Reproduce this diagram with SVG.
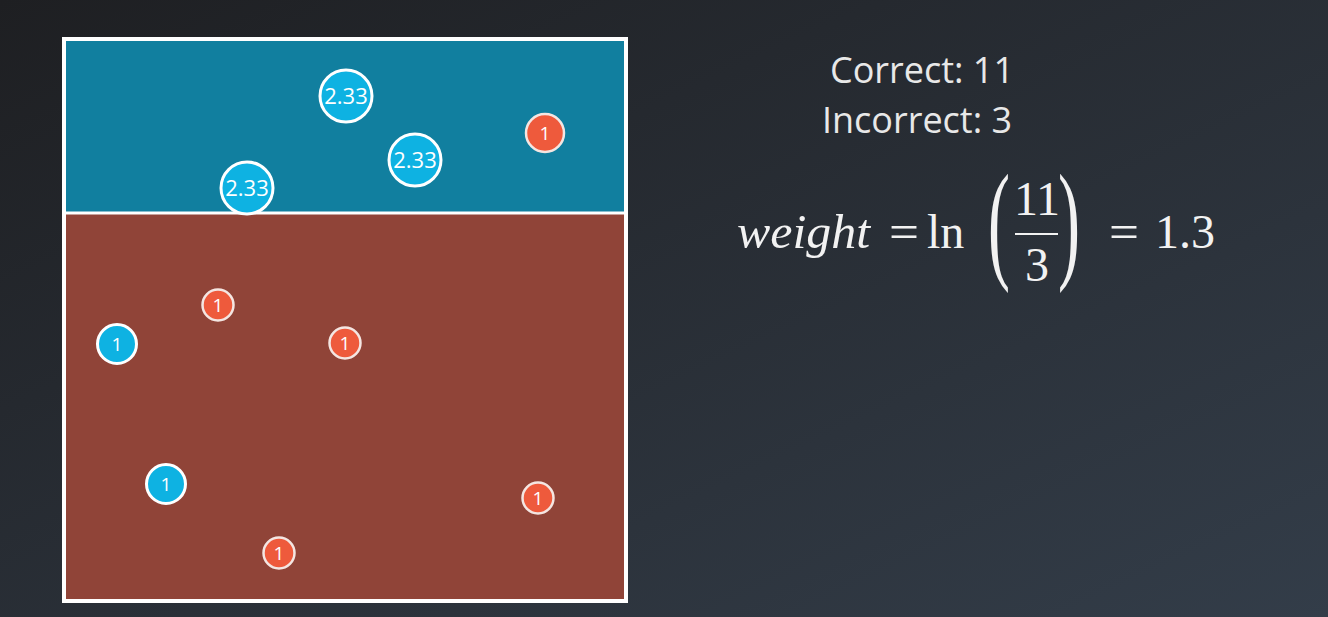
<svg xmlns="http://www.w3.org/2000/svg" width="1328" height="617" viewBox="0 0 1328 617">
<defs>
<linearGradient id="bg" x1="0" y1="0" x2="1" y2="1">
<stop offset="0" stop-color="#1e1f22"/>
<stop offset="1" stop-color="#333d49"/>
</linearGradient>
</defs>
<style>
.blue{fill:#0eb2e2;stroke:#ffffff;stroke-width:3}
.red{fill:#ee5a3c;stroke:#f4e6e2;stroke-width:2.5}
.lbl{font-family:"Open Sans","Liberation Sans",sans-serif;fill:#ffffff;text-anchor:middle}
.big{font-size:22px}
.sm{font-size:19px}
.info{font-family:"Open Sans","Liberation Sans",sans-serif;font-size:36px;fill:#e8e8e8;text-anchor:middle}
.math{font-family:"Liberation Serif","DejaVu Serif",serif;fill:#f2f2f2;font-size:48px}
</style>
<rect width="1328" height="617" fill="url(#bg)"/>
<g id="board">
<rect x="64" y="39" width="562" height="174" fill="#117f9f"/>
<rect x="64" y="213" width="562" height="388" fill="#904438"/>
<line x1="64" y1="213" x2="626" y2="213" stroke="#ffffff" stroke-width="3"/>
<rect x="64" y="39" width="562" height="562" fill="none" stroke="#ffffff" stroke-width="4"/>
</g>
<g id="p1"><circle class="blue" cx="346" cy="96" r="26"/><text class="lbl big" x="346" y="104">2.33</text></g>
<g id="p2"><circle class="blue" cx="415" cy="160" r="26"/><text class="lbl big" x="415" y="168">2.33</text></g>
<g id="p3"><circle class="blue" cx="247" cy="188" r="26"/><text class="lbl big" x="247" y="196">2.33</text></g>
<g id="p4"><circle class="red" cx="545" cy="133" r="19"/><text class="lbl sm" x="545" y="140">1</text></g>
<g id="p5"><circle class="red" cx="218" cy="305" r="15.5"/><text class="lbl sm" x="218" y="312">1</text></g>
<g id="p6"><circle class="blue" cx="117" cy="344" r="19.5"/><text class="lbl sm" x="117" y="351">1</text></g>
<g id="p7"><circle class="red" cx="345" cy="343" r="15.5"/><text class="lbl sm" x="345" y="350">1</text></g>
<g id="p8"><circle class="blue" cx="166" cy="484" r="19.5"/><text class="lbl sm" x="166" y="491">1</text></g>
<g id="p9"><circle class="red" cx="538" cy="498" r="15.5"/><text class="lbl sm" x="538" y="505">1</text></g>
<g id="p10"><circle class="red" cx="279" cy="553" r="15.5"/><text class="lbl sm" x="279" y="560">1</text></g>
<g id="counts">
<text class="info" x="922" y="83">Correct: 11</text>
<text class="info" x="917" y="133">Incorrect: 3</text>
</g>
<g id="formula" class="math">
<text x="737" y="248" font-style="italic" textLength="133" lengthAdjust="spacingAndGlyphs">weight</text>
<text x="889" y="248" textLength="30" lengthAdjust="spacingAndGlyphs">=</text>
<text x="927" y="248">ln</text>
<text x="0" y="265" font-size="132" transform="translate(988 0) scale(0.5 1)">(</text>
<text x="1037" y="215" text-anchor="middle">11</text>
<line x1="1015" y1="234" x2="1058" y2="234" stroke="#f2f2f2" stroke-width="2"/>
<text x="1037" y="281" text-anchor="middle">3</text>
<text x="0" y="265" font-size="132" transform="translate(1058 0) scale(0.5 1)">)</text>
<text x="1109" y="248" textLength="30" lengthAdjust="spacingAndGlyphs">=</text>
<text x="1155" y="248">1.3</text>
</g>
</svg>
